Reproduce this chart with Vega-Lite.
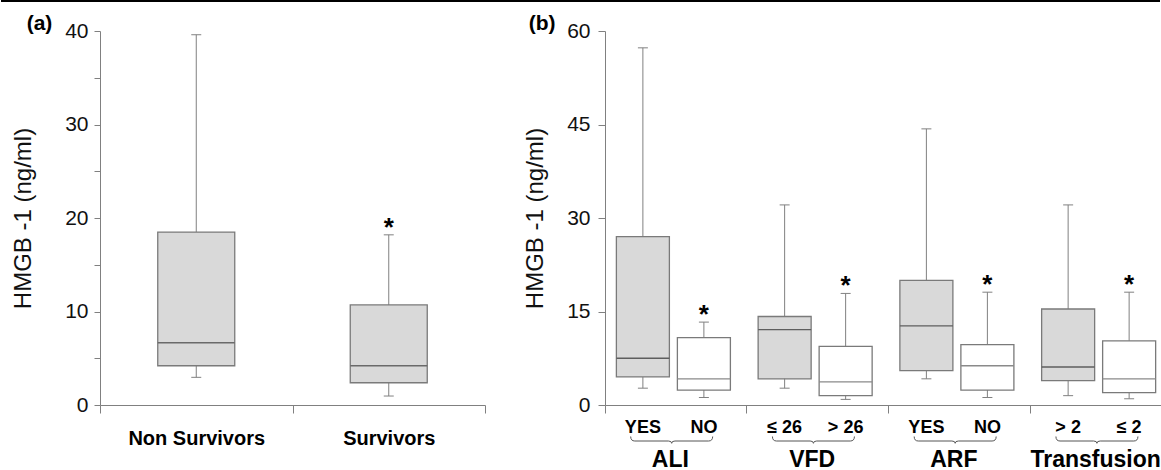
{
  "$schema": "https://vega.github.io/schema/vega-lite/v6.json",
  "padding": {"left": 0, "top": 0, "right": 0, "bottom": 0},
  "background": "white",
  "config": {
    "view": {"stroke": null},
    "font": "Liberation Sans",
    "axis": {
      "grid": false,
      "domainColor": "#808080",
      "tickColor": "#808080",
      "labelColor": "#111111",
      "titleColor": "#111111",
      "titleFontWeight": "normal"
    },
    "concat": {"spacing": 37}
  },
  "datasets": {
    "border": [{"edge": "top"}],
    "a": [
      {"outcome": "Non Survivors", "lower": 2.96, "q1": 4.2, "median": 6.66, "q3": 18.5, "upper": 39.6, "sig": false},
      {"outcome": "Survivors", "lower": 0.96, "q1": 2.38, "median": 4.2, "q3": 10.7, "upper": 18.2, "sig": true}
    ],
    "b": [
      {"group": "ALI", "risk": "high", "level": "YES", "lower": 2.7, "q1": 4.5, "median": 7.5, "q3": 27.0, "upper": 57.3, "sig": false},
      {"group": "ALI", "risk": "low", "level": "NO", "lower": 1.2, "q1": 2.4, "median": 4.2, "q3": 10.8, "upper": 13.3, "sig": true},
      {"group": "VFD", "risk": "high", "level": "≤ 26", "lower": 2.7, "q1": 4.2, "median": 12.1, "q3": 14.2, "upper": 32.1, "sig": false},
      {"group": "VFD", "risk": "low", "level": "> 26", "lower": 0.9, "q1": 1.5, "median": 3.7, "q3": 9.4, "upper": 17.9, "sig": true},
      {"group": "ARF", "risk": "high", "level": "YES", "lower": 4.2, "q1": 5.5, "median": 12.7, "q3": 20.0, "upper": 44.3, "sig": false},
      {"group": "ARF", "risk": "low", "level": "NO", "lower": 1.2, "q1": 2.4, "median": 6.3, "q3": 9.7, "upper": 18.1, "sig": true},
      {"group": "Transfusion", "risk": "high", "level": "> 2", "lower": 1.5, "q1": 3.9, "median": 6.1, "q3": 15.4, "upper": 32.1, "sig": false},
      {"group": "Transfusion", "risk": "low", "level": "≤ 2", "lower": 1.0, "q1": 2.0, "median": 4.2, "q3": 10.3, "upper": 18.1, "sig": true}
    ]
  },
  "spacing": 11,
  "vconcat": [
    {
      "data": {"name": "border"},
      "width": 1060,
      "height": 2,
      "mark": {"type": "rule", "color": "#000000", "strokeWidth": 2, "xOffset": -99},
      "encoding": {
        "x": {"datum": 0, "scale": {"domain": [0, 1]}, "axis": null},
        "x2": {"datum": 1},
        "y": {"datum": 0.5, "scale": {"domain": [0, 1]}, "axis": null}
      }
    },
    {
      "hconcat": [
        {
          "width": 385,
          "height": 374,
          "title": {"text": "(a)", "anchor": "start", "frame": "bounds", "fontSize": 21, "fontWeight": "bold", "color": "#000000", "offset": 0, "dx": 15, "dy": 14},
          "data": {"name": "a"},
          "encoding": {
            "x": {
              "field": "outcome", "type": "nominal", "sort": ["Non Survivors", "Survivors"], "title": null,
              "scale": {"paddingInner": 0, "paddingOuter": 0},
              "axis": {"tickBand": "extent", "labelAngle": 0, "labelFontSize": 20, "labelFontWeight": "bold", "labelColor": "#000000", "labelPadding": 15, "tickSize": 8}
            }
          },
          "layer": [
            {
              "mark": {"type": "rule", "color": "#808080", "strokeWidth": 1},
              "encoding": {
                "y": {
                  "field": "lower", "type": "quantitative", "title": "HMGB -1 (ng/ml)",
                  "scale": {"domain": [0, 40], "nice": false},
                  "axis": {"values": [0, 5, 10, 15, 20, 25, 30, 35, 40], "labelExpr": "datum.value % 10 === 0 ? datum.label : ''", "tickSize": 6, "labelPadding": 6, "labelFontSize": 21, "titleFontSize": 24, "titlePadding": 29}
                },
                "y2": {"field": "upper"}
              }
            },
            {
              "mark": {"type": "bar", "width": {"band": 0.4}, "fill": "#d9d9d9", "stroke": "#7a7a7a", "strokeWidth": 1.3},
              "encoding": {"y": {"field": "q1", "type": "quantitative"}, "y2": {"field": "q3"}}
            },
            {
              "mark": {"type": "tick", "size": 77, "thickness": 1.3, "color": "#6a6a6a", "opacity": 1},
              "encoding": {"y": {"field": "median", "type": "quantitative"}}
            },
            {
              "mark": {"type": "tick", "size": 10, "thickness": 1, "color": "#808080", "opacity": 1},
              "encoding": {"y": {"field": "lower", "type": "quantitative"}}
            },
            {
              "mark": {"type": "tick", "size": 10, "thickness": 1, "color": "#808080", "opacity": 1},
              "encoding": {"y": {"field": "upper", "type": "quantitative"}}
            },
            {
              "transform": [{"filter": "datum.sig"}],
              "mark": {"type": "text", "text": "*", "fontSize": 26, "fontWeight": "bold", "baseline": "alphabetic", "dy": 1, "color": "#000000"},
              "encoding": {"y": {"field": "upper", "type": "quantitative"}}
            }
          ]
        },
        {
          "width": 556,
          "height": 374,
          "title": {"text": "(b)", "anchor": "start", "frame": "bounds", "fontSize": 21, "fontWeight": "bold", "color": "#000000", "offset": 0, "dx": 5, "dy": 14},
          "data": {"name": "b"},
          "encoding": {
            "x": {
              "field": "group", "type": "nominal", "sort": ["ALI", "VFD", "ARF", "Transfusion"], "title": null,
              "scale": {"paddingInner": 0.0776, "paddingOuter": 0, "align": 0},
              "axis": {"bandPosition": 0, "tickExtra": false, "labelAngle": 0, "labelFontSize": 23, "labelFontWeight": "bold", "labelColor": "#000000", "labelPadding": 35, "tickSize": 8}
            },
            "xOffset": {
              "field": "risk", "type": "nominal", "sort": ["high", "low"],
              "scale": {"paddingInner": 0.131, "paddingOuter": 0.1372, "align": 0.68}
            }
          },
          "layer": [
            {
              "mark": {"type": "rule", "color": "#808080", "strokeWidth": 1},
              "encoding": {
                "y": {
                  "field": "lower", "type": "quantitative", "title": "HMGB -1 (ng/ml)",
                  "scale": {"domain": [0, 60], "nice": false},
                  "axis": {"values": [0, 15, 30, 45, 60], "tickSize": 7, "labelPadding": 8, "labelFontSize": 21, "titleFontSize": 24, "titlePadding": 19}
                },
                "y2": {"field": "upper"}
              }
            },
            {
              "mark": {"type": "bar", "stroke": "#7a7a7a", "strokeWidth": 1.3},
              "encoding": {
                "y": {"field": "q1", "type": "quantitative"},
                "y2": {"field": "q3"},
                "fill": {"field": "risk", "type": "nominal", "scale": {"domain": ["high", "low"], "range": ["#d9d9d9", "#ffffff"]}, "legend": null}
              }
            },
            {
              "mark": {"type": "tick", "size": 53, "thickness": 1.3, "opacity": 1},
              "encoding": {
                "y": {"field": "median", "type": "quantitative"},
                "color": {"field": "risk", "type": "nominal", "scale": {"domain": ["high", "low"], "range": ["#5e5e5e", "#8a8a8a"]}, "legend": null}
              }
            },
            {
              "mark": {"type": "tick", "size": 10, "thickness": 1, "color": "#808080", "opacity": 1},
              "encoding": {"y": {"field": "lower", "type": "quantitative"}}
            },
            {
              "mark": {"type": "tick", "size": 10, "thickness": 1, "color": "#808080", "opacity": 1},
              "encoding": {"y": {"field": "upper", "type": "quantitative"}}
            },
            {
              "transform": [{"filter": "datum.sig"}],
              "mark": {"type": "text", "text": "*", "fontSize": 26, "fontWeight": "bold", "baseline": "alphabetic", "dy": 1, "color": "#000000"},
              "encoding": {"y": {"field": "upper", "type": "quantitative"}}
            },
            {
              "mark": {"type": "text", "fontSize": 18, "fontWeight": "bold", "baseline": "middle", "dy": 23, "color": "#000000"},
              "encoding": {"y": {"datum": 0}, "text": {"field": "level"}}
            },
            {
              "transform": [{"filter": "datum.risk === 'high'"}],
              "mark": {"type": "point", "shape": "M-1,-0.11 Q-1,0 -0.9,0 L-0.08,0 Q0,0 0,0.056 Q0,0 0.08,0 L0.9,0 Q1,0 1,-0.11", "size": 6724, "filled": false, "stroke": "#555555", "strokeWidth": 1, "opacity": 1, "yOffset": 36, "xOffset": 1.3},
              "encoding": {"x": {"field": "group", "type": "nominal", "sort": ["ALI", "VFD", "ARF", "Transfusion"]}, "xOffset": null, "y": {"datum": 0}}
            }
          ]
        }
      ]
    }
  ]
}
